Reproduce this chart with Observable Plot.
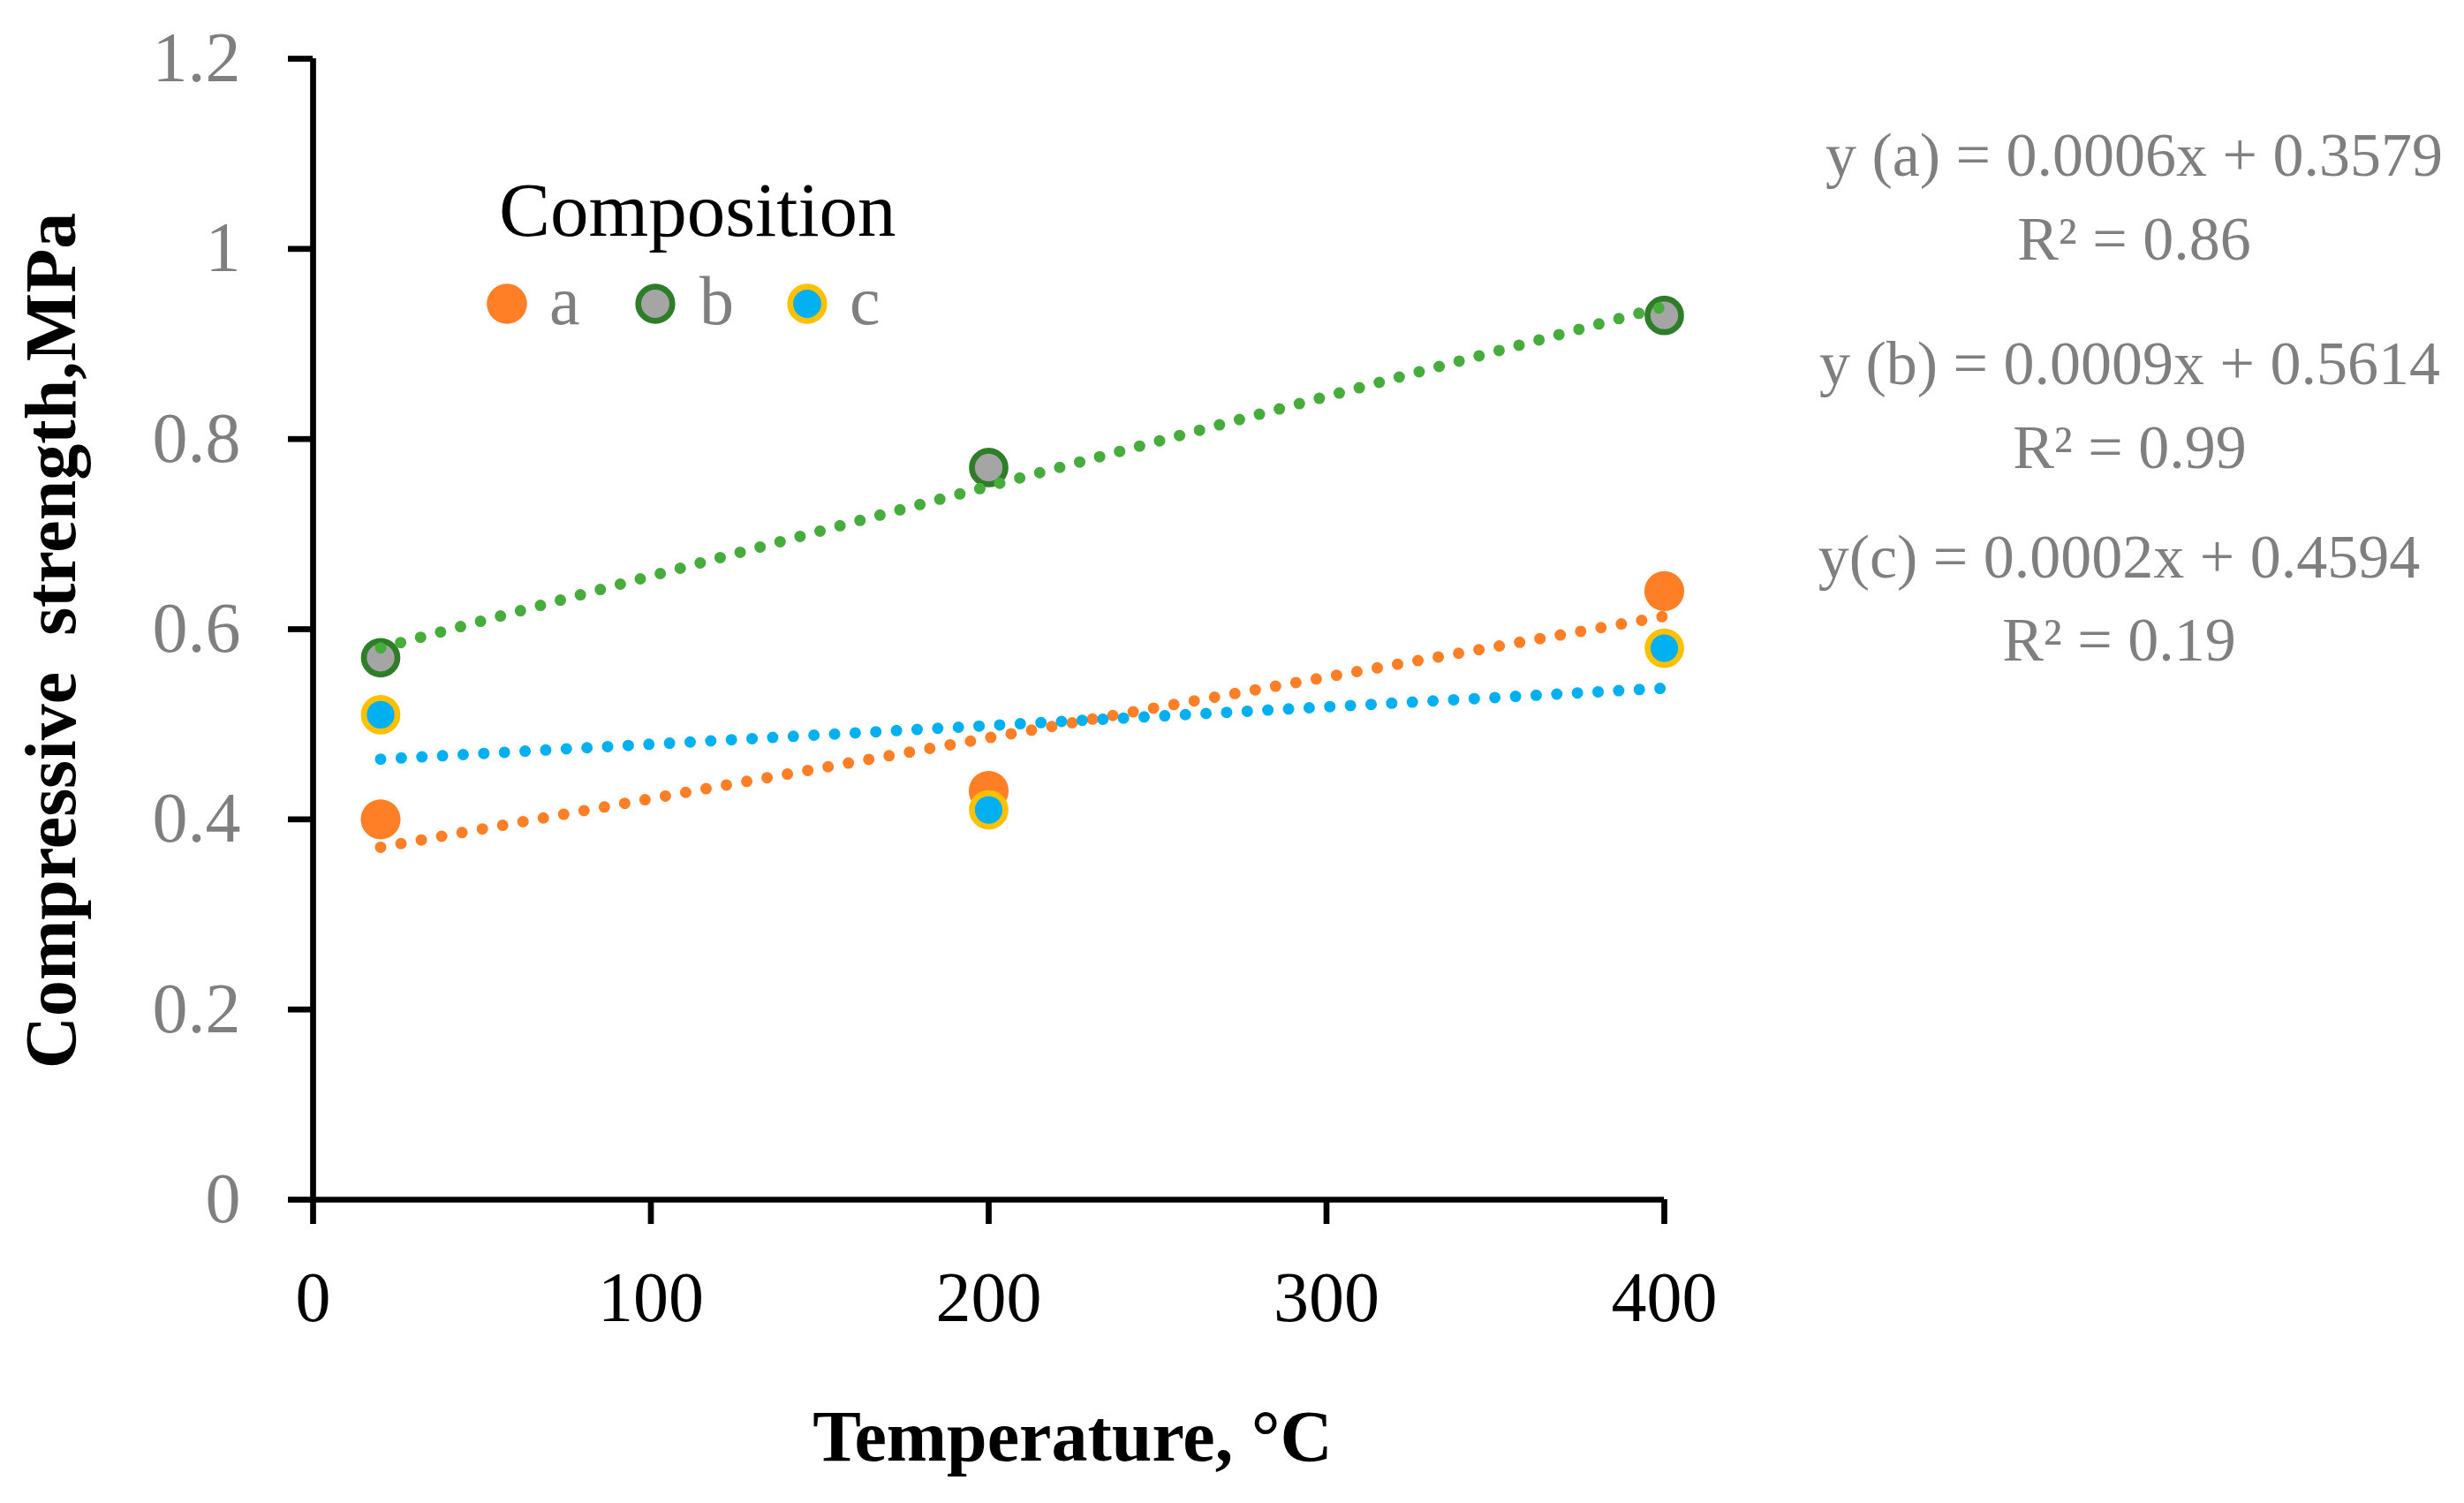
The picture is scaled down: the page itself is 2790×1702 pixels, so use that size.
<!DOCTYPE html>
<html>
<head>
<meta charset="utf-8">
<script src="https://cdn.jsdelivr.net/npm/d3@7"></script>
<script src="https://cdn.jsdelivr.net/npm/@observablehq/plot@0.6"></script>
<style>
  body { margin: 0; background: #fff; overflow: hidden; }
  #chart { position: relative; width: 2790px; height: 1702px; }
  #chart svg { display: block; }
  #legend { position: absolute; left: 0; top: 0; }
</style>
</head>
<body>
<div id="chart"></div>
<script>
// data
const temps = [20, 200, 400];
const strengthA = [0.40, 0.43, 0.64];
const strengthB = [0.57, 0.77, 0.93];
const strengthC = [0.51, 0.41, 0.58];
const seriesNames = ["a", "b", "c"];
const xTicks = [0, 100, 200, 300, 400];
const yTicks = [0, 0.2, 0.4, 0.6, 0.8, 1, 1.2];
const equations = [
  "y (a) = 0.0006x + 0.3579\nR² = 0.86",
  "y (b) = 0.0009x + 0.5614\nR² = 0.99",
  "y(c) = 0.0002x + 0.4594\nR² = 0.19"
];
const xTitle = "Temperature, °C";
const yTitle = "Compressive\u00a0 strength,MPa";
const legendTitle = "Composition";

const serif = "'Palatino Linotype', 'Book Antiqua', Palatino, 'Liberation Serif', serif";
const grey = "#7f7f7f";
const orange = "#ff7f27";

const rows = (vals) => temps.map((t, i) => ({t, s: vals[i]}));
const rowsA = rows(strengthA), rowsB = rows(strengthB), rowsC = rows(strengthC);

const dotted = {strokeWidth: 13, strokeDasharray: "0 23.4", strokeLinecap: "round", ci: 0};

let chart = Plot.plot({
  width: 2790,
  height: 1702,
  marginLeft: 354,
  marginRight: 906,
  marginTop: 66,
  marginBottom: 344,
  style: {fontFamily: serif, background: "white"},
  x: {domain: [0, 400]},
  y: {domain: [0, 1.2]},
  marks: [
    Plot.axisY({ticks: yTicks, tickFormat: d => String(d), tickSize: 28, tickPadding: 54,
      fontSize: 80, fill: grey, stroke: "black", strokeWidth: 6.7, label: null}),
    Plot.axisX({ticks: xTicks, tickFormat: d => String(d), tickSize: 28, tickPadding: 53,
      fontSize: 80, fill: "black", stroke: "black", strokeWidth: 6.7, label: null}),
    Plot.ruleX([0], {stroke: "black", strokeWidth: 6.7}),
    Plot.ruleY([0], {stroke: "black", strokeWidth: 6.7}),

    Plot.dot(rowsA, {x: "t", y: "s", r: 22.6, fill: orange}),
    Plot.dot(rowsB, {x: "t", y: "s", r: 19, fill: "#a5a5a5", stroke: "#2e7d28", strokeWidth: 6.7}),
    Plot.dot(rowsC, {x: "t", y: "s", r: 19, fill: "#00b0f0", stroke: "#ffc000", strokeWidth: 6.7}),

    Plot.linearRegressionY(rowsA, {x: "t", y: "s", stroke: orange, ...dotted}),
    Plot.linearRegressionY(rowsB, {x: "t", y: "s", stroke: "#46ad3c", ...dotted}),
    Plot.linearRegressionY(rowsC, {x: "t", y: "s", stroke: "#00b0f0", ...dotted}),

    Plot.text([equations[0]], {text: d => d, frameAnchor: "top-right", dx: 532, dy: 227,
      lineAnchor: "bottom", textAnchor: "middle", fontSize: 70, lineHeight: 1.357, fill: grey}),
    Plot.text([equations[1]], {text: d => d, frameAnchor: "top-right", dx: 527, dy: 463,
      lineAnchor: "bottom", textAnchor: "middle", fontSize: 70, lineHeight: 1.357, fill: grey}),
    Plot.text([equations[2]], {text: d => d, frameAnchor: "top-right", dx: 515, dy: 681,
      lineAnchor: "bottom", textAnchor: "middle", fontSize: 70, lineHeight: 1.33, fill: grey}),

    Plot.text([xTitle], {text: d => d, frameAnchor: "bottom", dx: 95, dy: 295,
      lineAnchor: "bottom", fontSize: 82, fontWeight: "bold", fill: "black"}),
    Plot.text([yTitle], {text: d => d, frameAnchor: "left", rotate: -90, dx: -270, dy: 13,
      lineAnchor: "bottom", textAnchor: "middle", fontSize: 82, fontWeight: "bold", fill: "black"})
  ]
})

d3.select('#chart').append(() => chart)

// legend overlay
const legendStyle = [
  {fill: orange, stroke: "none", r: 22.8, cx: 574, lx: 622},
  {fill: "#a5a5a5", stroke: "#2e7d28", r: 19.3, cx: 742, lx: 792},
  {fill: "#00b0f0", stroke: "#ffc000", r: 19.3, cx: 914, lx: 962}
];
const leg = d3.select('#chart').append("svg")
  .attr("id", "legend")
  .attr("width", 1100).attr("height", 420)
  .style("font-family", serif);

leg.append("text")
  .attr("x", 565).attr("y", 267)
  .attr("font-size", 87).attr("fill", "black")
  .text(legendTitle);

seriesNames.forEach((name, i) => {
  const s = legendStyle[i];
  leg.append("circle")
    .attr("cx", s.cx).attr("cy", 344).attr("r", s.r)
    .attr("fill", s.fill).attr("stroke", s.stroke).attr("stroke-width", 6.7);
  leg.append("text")
    .attr("x", s.lx).attr("y", 367)
    .attr("font-size", 78).attr("fill", grey)
    .text(name);
});
</script>
</body>
</html>
